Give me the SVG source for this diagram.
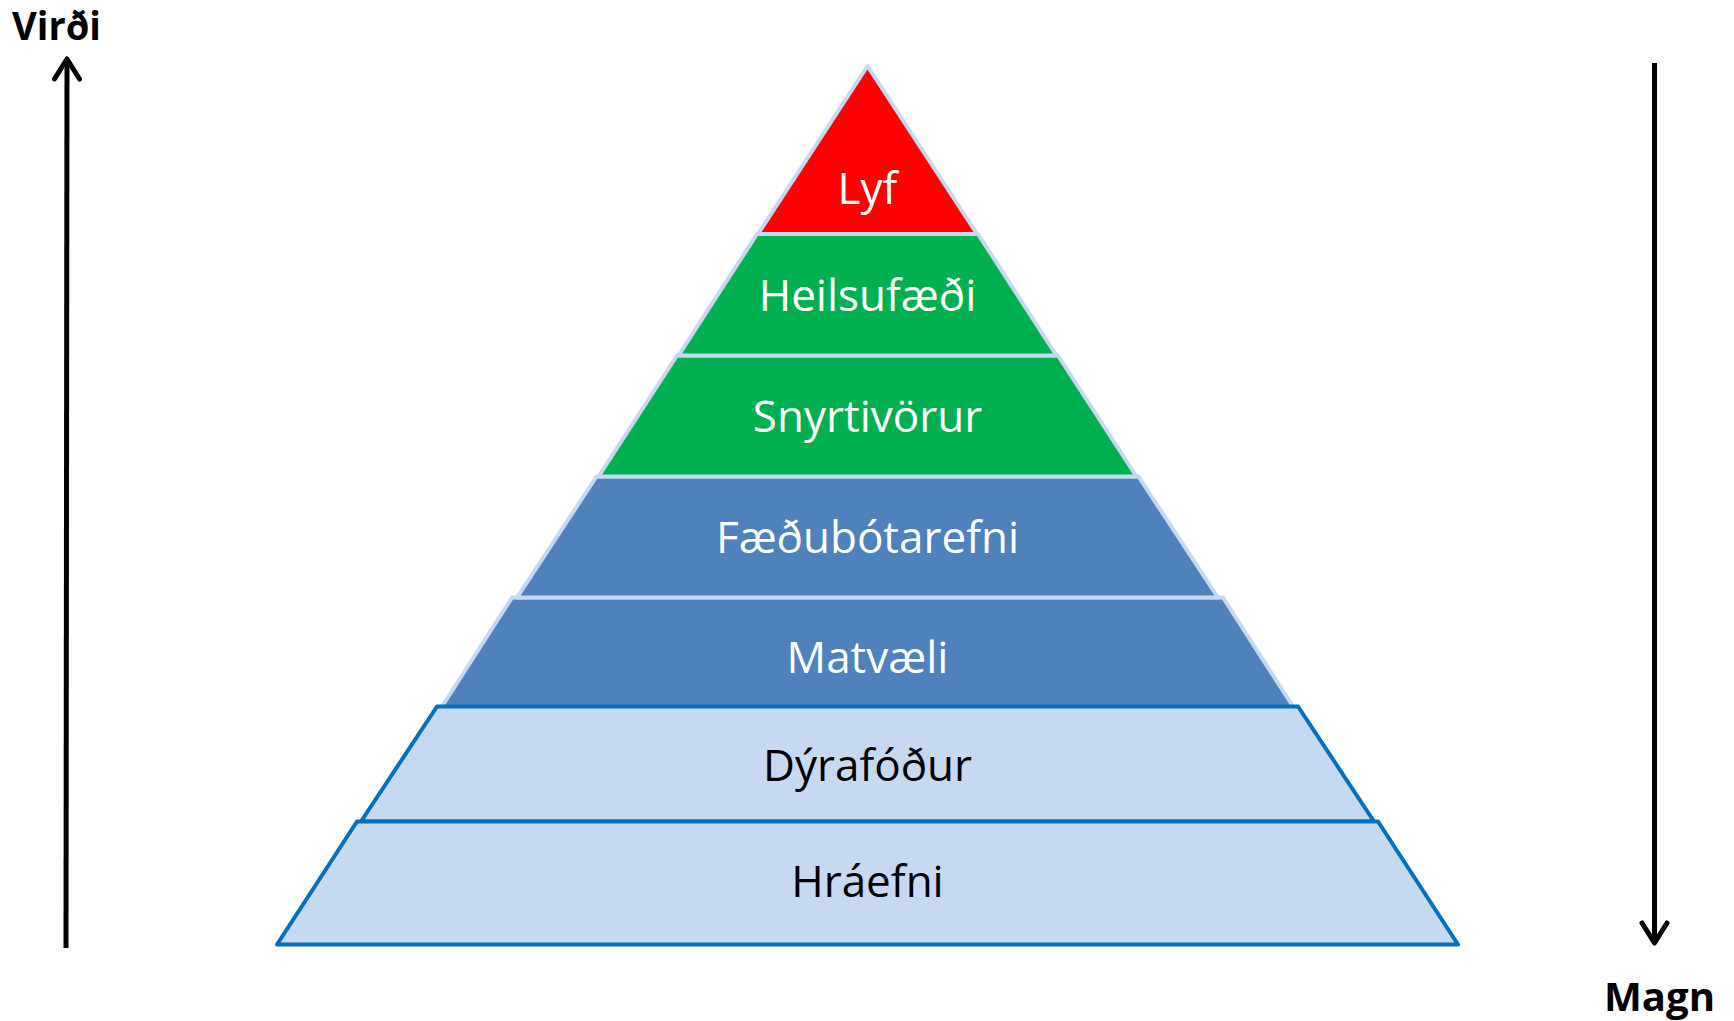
<svg xmlns="http://www.w3.org/2000/svg" width="1734" height="1021" viewBox="0 0 1734 1021">
  <defs>
    <marker id="arrow" markerUnits="userSpaceOnUse" markerWidth="40" markerHeight="40" viewBox="-30 -20 40 40" refX="0" refY="0" orient="auto">
      <path d="M-20,-12.5 L0,0 L-20,12.5" fill="none" stroke="#000" stroke-width="5" stroke-linecap="round" stroke-linejoin="round"/>
    </marker>
    <style>
      .upper { stroke: #C6D9F1; stroke-width: 4; stroke-linejoin: round; }
      .lower { fill: #C6D9F1; stroke: #0070C0; stroke-width: 4; stroke-linejoin: round; }
      .red { fill: #FF0000; }
      .green { fill: #00B050; }
      .blue { fill: #4F81BD; }
      .lbl { font-family: "Open Sans", "Liberation Sans", sans-serif; font-size: 44px; text-anchor: middle; }
      .w { fill: #FFFFFF; }
      .k { fill: #000000; }
      .axis { font-family: "Open Sans", "Liberation Sans", sans-serif; font-weight: bold; fill: #000; }
      .arrowline { stroke: #000; stroke-width: 5; fill: none; }
    </style>
  </defs>
  <rect width="1734" height="1021" fill="#FFFFFF"/>

  <g id="tier-matvaeli">
    <polygon class="upper blue" points="512,597.5 1223,597.5 1294,708 441,708"/>
    <text class="lbl w" x="867.5" y="673">Matvæli</text>
  </g>
  <g id="tier-faedubotarefni">
    <polygon class="upper blue" points="596.5,476.5 1138.5,476.5 1218,597.5 517,597.5"/>
    <text class="lbl w" x="867.5" y="553">Fæðubótarefni</text>
  </g>
  <g id="tier-snyrtivorur">
    <polygon class="upper green" points="677,355.5 1058,355.5 1136.5,476.5 598.5,476.5"/>
    <text class="lbl w" x="867.5" y="432">Snyrtivörur</text>
  </g>
  <g id="tier-heilsufaedi">
    <polygon class="upper green" points="757,234 978,234 1056.5,355.5 678.5,355.5"/>
    <text class="lbl w" x="867.5" y="311">Heilsufæði</text>
  </g>
  <g id="tier-lyf">
    <polygon class="upper red" points="867.5,66 977,234 758,234"/>
    <text class="lbl w" x="867.5" y="204">Lyf</text>
  </g>
  <g id="tier-dyrafodur">
    <polygon class="lower" points="437,706.5 1298,706.5 1374,821.5 361,821.5"/>
    <text class="lbl k" x="867.5" y="781">Dýrafóður</text>
  </g>
  <g id="tier-hraefni">
    <polygon class="lower" points="357,821.5 1378,821.5 1458,944.5 277,944.5"/>
    <text class="lbl k" x="867.5" y="897">Hráefni</text>
  </g>

  <g id="connectors">
    <line class="arrowline" x1="66" y1="948" x2="67" y2="59" marker-end="url(#arrow)"/>
    <line class="arrowline" x1="1654.5" y1="63" x2="1654.5" y2="943" marker-end="url(#arrow)"/>
  </g>

  <g id="label-virdi">
    <text class="axis" x="12" y="40" font-size="40" textLength="89" lengthAdjust="spacingAndGlyphs">Virði</text>
  </g>
  <g id="label-magn">
    <text class="axis" x="1604" y="1011" font-size="40" textLength="111" lengthAdjust="spacingAndGlyphs">Magn</text>
  </g>
</svg>
